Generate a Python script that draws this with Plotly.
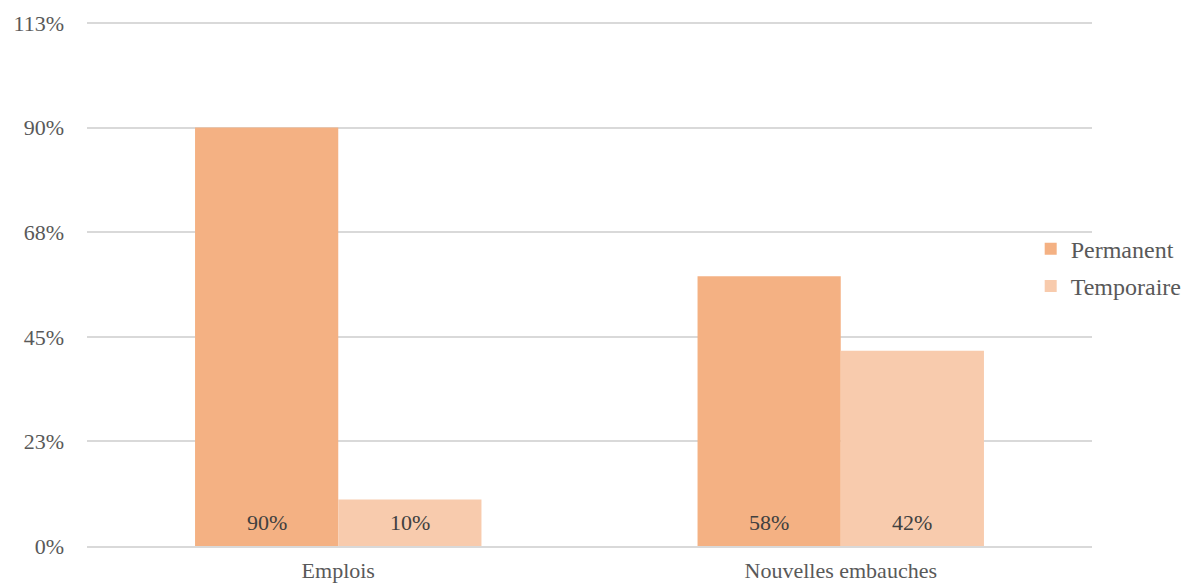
import plotly.graph_objects as go

categories = ["Emplois", "Nouvelles embauches"]
permanent = [90, 58]
temporaire = [10, 42]
series_names = ["Permanent", "Temporaire"]
y_tick_values = [0, 22.5, 45, 67.5, 90, 112.5]
y_tick_labels = ["0%", "23%", "45%", "68%", "90%", "113%"]

FONT = "'Times New Roman', 'Liberation Serif', 'DejaVu Serif', serif"
colors = ["#F4B183", "#F8CBAD"]
BARGAP = 0.43

fig = go.Figure()
all_series = [permanent, temporaire]
for j, (name, vals, col) in enumerate(zip(series_names, all_series, colors)):
    fig.add_trace(go.Bar(
        name=name,
        legendgroup=name,
        x=list(range(len(categories))),
        y=vals,
        marker=dict(color=col, line=dict(width=0)),
        hoverinfo="skip",
    ))

# value labels sitting near the base of each bar
bar_w = (1 - BARGAP) / len(all_series)
for j, vals in enumerate(all_series):
    for i, v in enumerate(vals):
        fig.add_annotation(
            x=i + (j - (len(all_series) - 1) / 2) * bar_w,
            y=0,
            xref="x", yref="y",
            text=f"{v}%",
            showarrow=False,
            yanchor="bottom",
            yshift=9,
            font=dict(family=FONT, size=22, color="#404040"),
        )

fig.update_layout(
    width=1193,
    height=585,
    margin=dict(l=87, r=101, t=21, b=39, autoexpand=False),
    paper_bgcolor="white",
    plot_bgcolor="white",
    barmode="group",
    bargap=BARGAP,
    bargroupgap=0,
    font=dict(family=FONT, size=22, color="#595959"),
    legend=dict(
        x=0.939, xanchor="left",
        y=0.53, yanchor="middle",
        font=dict(family=FONT, size=24, color="#595959"),
        bgcolor="rgba(0,0,0,0)",
        traceorder="grouped",
        itemwidth=30,
        tracegroupgap=3,
    ),
)
fig.update_yaxes(
    range=[0, 112.93],
    tickvals=y_tick_values,
    ticktext=y_tick_labels,
    showgrid=True,
    gridcolor="#D9D9D9",
    gridwidth=1.5,
    zeroline=False,
    showline=False,
    ticks="",
    ticklabelstandoff=22,
    tickfont=dict(family=FONT, size=22, color="#595959"),
)
fig.update_xaxes(
    range=[-0.5, len(categories) - 0.5],
    tickvals=list(range(len(categories))),
    ticktext=categories,
    showline=True,
    linecolor="#D9D9D9",
    linewidth=1.5,
    ticks="outside",
    ticklen=4,
    tickcolor="rgba(0,0,0,0)",
    tickfont=dict(family=FONT, size=22, color="#595959"),
)

fig.write_html("out.html")
